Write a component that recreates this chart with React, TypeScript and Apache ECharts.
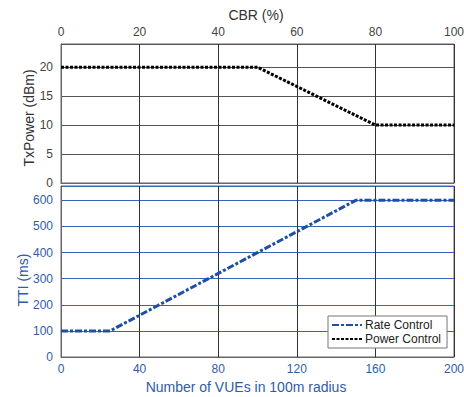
import React, { useEffect, useRef } from "react";
import * as echarts from "echarts";

const cbrPoints = [0, 50, 80, 100];
const txPower = [20, 20, 10, 10];
const vuePoints = [0, 25, 150, 200];
const ttiValues = [100, 100, 600, 600];

const BLUE_TEXT = "#2f5ca8";
const BLUE_LINE = "#1f4fa5";
const FONT = "Liberation Sans, Arial, sans-serif";

const titleStyle = (text: string, color: string) => ({
  text, fill: color, font: `14px ${FONT}`, textAlign: "center", textVerticalAlign: "middle",
});

export default function App() {
  const ref = useRef<HTMLDivElement>(null);
  useEffect(() => {
    if (!ref.current) return;
    const chart = echarts.init(ref.current, undefined, { renderer: "svg" });
    chart.setOption({
      animation: false,
      backgroundColor: "#ffffff",
      textStyle: { fontFamily: FONT },
      grid: [
        { left: 61, right: 10, top: 44, height: 139, show: true, borderColor: "#666", borderWidth: 1, backgroundColor: "transparent", containLabel: false, outerBoundsMode: "none" },
        { left: 61, right: 10, top: 186, height: 171, show: true, borderColor: "#666", borderWidth: 1, backgroundColor: "transparent", containLabel: false, outerBoundsMode: "none" },
      ],
      graphic: [
        { type: "text", x: 256, y: 15, style: titleStyle("CBR (%)", "#333") },
        { type: "text", x: 246, y: 387, style: titleStyle("Number of VUEs in 100m radius", BLUE_TEXT) },
        { type: "text", x: 29, y: 118, rotation: Math.PI / 2, style: titleStyle("TxPower (dBm)", "#333") },
        { type: "text", x: 23, y: 280, rotation: Math.PI / 2, style: titleStyle("TTI (ms)", BLUE_TEXT) },
      ],
      xAxis: [
        {
          type: "value", gridIndex: 0, position: "top", min: 0, max: 100, interval: 20,
          axisLine: { show: true, lineStyle: { color: "#666" } },
          axisTick: { show: false },
          axisLabel: { color: "#444", fontSize: 12, margin: 6, fontFamily: FONT },
          splitLine: { show: true, lineStyle: { color: "#333", width: 1 } },
        },
        {
          type: "value", gridIndex: 1, position: "bottom", min: 0, max: 200, interval: 40,
          axisLine: { show: true, lineStyle: { color: "#666" } },
          axisTick: { show: false },
          axisLabel: { color: BLUE_TEXT, fontSize: 12, margin: 6, fontFamily: FONT },
          splitLine: { show: true, lineStyle: { color: "#333", width: 1 } },
        },
      ],
      yAxis: [
        {
          type: "value", gridIndex: 0, min: 0, max: 24, interval: 5,
          axisLine: { show: true, lineStyle: { color: "#666" } },
          axisTick: { show: false },
          axisLabel: { color: "#444", fontSize: 12, margin: 8, showMaxLabel: false, fontFamily: FONT },
          splitLine: { show: true, lineStyle: { color: "#555", width: 1 } },
        },
        {
          type: "value", gridIndex: 1, min: 0, max: 655, interval: 100,
          axisLine: { show: true, lineStyle: { color: "#666" } },
          axisTick: { show: false },
          axisLabel: { color: BLUE_TEXT, fontSize: 12, margin: 8, showMaxLabel: false, fontFamily: FONT },
          splitLine: { show: true, lineStyle: { color: "#3a63b5", width: 1 } },
        },
      ],
      legend: {
        left: 328, top: 316, orient: "vertical",
        backgroundColor: "#fff", borderColor: "#777", borderWidth: 1,
        padding: [3, 6, 3, 3], itemGap: 2, itemWidth: 30, itemHeight: 10,
        itemStyle: { opacity: 0 },
        textStyle: { color: "#222", fontSize: 12, fontFamily: FONT, padding: [0, 0, 0, -2] },
        data: ["Rate Control", "Power Control"],
      },
      series: [
        {
          name: "Rate Control", type: "line", xAxisIndex: 1, yAxisIndex: 1,
          data: vuePoints.map((x, i) => [x, ttiValues[i]]),
          symbol: "none", color: BLUE_LINE,
          lineStyle: { color: BLUE_LINE, width: 3, type: [7, 2, 3, 2] },
          z: 5,
        },
        {
          name: "Power Control", type: "line", xAxisIndex: 0, yAxisIndex: 0,
          data: cbrPoints.map((x, i) => [x, txPower[i]]),
          symbol: "none", color: "#000",
          lineStyle: { color: "#000", width: 3, type: [3, 1.5] },
          z: 5,
        },
      ],
    });
    return () => chart.dispose();
  }, []);
  return <div ref={ref} style={{ width: 464, height: 397, position: "absolute", left: 0, top: 0 }} />;
}
